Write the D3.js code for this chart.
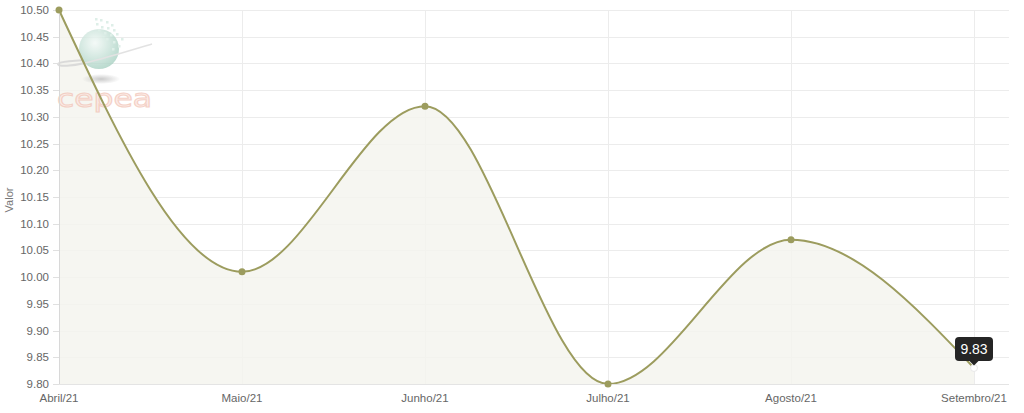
<!DOCTYPE html>
<html><head><meta charset="utf-8">
<script src="https://cdn.jsdelivr.net/npm/d3@7"></script>
<style>
html,body{margin:0;padding:0;background:#fff;}
svg{display:block;font-family:"Liberation Sans",Arial,sans-serif;}
</style></head>
<body><svg id="c" width="1024" height="413"></svg>
<script>
const categories = ["Abril/21","Maio/21","Junho/21","Julho/21","Agosto/21","Setembro/21"];
const values = [10.50, 10.01, 10.32, 9.80, 10.07, 9.83];
const yTicks = [9.80,9.85,9.90,9.95,10.00,10.05,10.10,10.15,10.20,10.25,10.30,10.35,10.40,10.45,10.50];
const yLabel = "Valor";
const tooltipIndex = 5;

(function(){
const svg = d3.select("#c");
const pL = 59, pR = 1009, pT = 10, pB = 384;
const x = d3.scalePoint().domain(categories).range([pL, 974]);
const y = d3.scaleLinear().domain([9.80, 10.50]).range([pB, pT]);
const lineColor = "#9c9c5e";
const data = categories.map((c,i)=>({c, v:values[i]}));

svg.append("g").selectAll("line").data(yTicks).join("line")
  .attr("x1", pL).attr("x2", pR)
  .attr("y1", d=>Math.round(y(d))+0.5).attr("y2", d=>Math.round(y(d))+0.5)
  .attr("stroke", "#ececec").attr("stroke-width", 1);
svg.append("g").selectAll("line").data(categories).join("line")
  .attr("x1", d=>Math.round(x(d))+0.5).attr("x2", d=>Math.round(x(d))+0.5)
  .attr("y1", pT).attr("y2", pB)
  .attr("stroke", "#ececec").attr("stroke-width", 1);

const curve = d3.curveMonotoneX;
svg.append("path").datum(data)
  .attr("d", d3.area().x(d=>x(d.c)).y0(pB).y1(d=>y(d.v)).curve(curve))
  .attr("fill", "#f5f5ef").attr("fill-opacity", 0.85);

// logo watermark
const logo = svg.append("g").attr("opacity", 0.8);
const defs = svg.append("defs");
const grad = defs.append("radialGradient").attr("id","gl").attr("cx","40%").attr("cy","35%").attr("r","70%");
grad.append("stop").attr("offset","0%").attr("stop-color","#f2f9f6");
grad.append("stop").attr("offset","100%").attr("stop-color","#a6d0c1");
const sg = defs.append("radialGradient").attr("id","sh");
sg.append("stop").attr("offset","0%").attr("stop-color","#bdbdbd");
sg.append("stop").attr("offset","100%").attr("stop-color","#bdbdbd").attr("stop-opacity",0);
logo.append("ellipse").attr("cx",101).attr("cy",79).attr("rx",19).attr("ry",5).attr("fill","url(#sh)");
logo.append("path").attr("d","M97,60 C75,60 58,62 58,64 C58,67 72,66 85,63")
  .attr("fill","none").attr("stroke","#d4d4d4").attr("stroke-width",2);
logo.append("circle").attr("cx",99).attr("cy",49).attr("r",20).attr("fill","url(#gl)");
const dots = [[95,18],[100,19],[106,21],[111,24],[96,23],[101,26],[107,27],[113,29],[104,32],[110,34],[116,33],[98,29],[121,38],[113,41],[106,38],[118,45],[112,48],[102,36]];
logo.selectAll("rect.px").data(dots).join("rect").attr("class","px")
  .attr("x",d=>d[0]).attr("y",d=>d[1]).attr("width",2.5).attr("height",2.5).attr("fill","#d6ece3");
logo.append("path").attr("d","M85,63 C110,57 135,49 152,44")
  .attr("fill","none").attr("stroke","#dcdcdc").attr("stroke-width",1.5);
logo.append("text").attr("x",57).attr("y",107)
  .attr("font-size",24).attr("textLength",95).attr("lengthAdjust","spacingAndGlyphs")
  .attr("fill","#fce9e3").attr("stroke","#f2c6b9").attr("stroke-width",1)
  .attr("font-family","'DejaVu Sans',sans-serif").text("cepea");

svg.append("path").datum(data)
  .attr("d", d3.line().x(d=>x(d.c)).y(d=>y(d.v)).curve(curve))
  .attr("fill", "none").attr("stroke", lineColor).attr("stroke-width", 2);

svg.append("line").attr("x1",pL+0.5).attr("x2",pL+0.5).attr("y1",pT).attr("y2",pB)
  .attr("stroke","#d8d8d8");
svg.append("line").attr("x1",pL).attr("x2",pR).attr("y1",pB+0.5).attr("y2",pB+0.5)
  .attr("stroke","#e4e4e4");

const ya = svg.append("g");
ya.selectAll("line").data(yTicks).join("line")
  .attr("x1", pL-6).attr("x2", pL).attr("y1", d=>Math.round(y(d))+0.5).attr("y2", d=>Math.round(y(d))+0.5)
  .attr("stroke","#e0e0e0");
ya.selectAll("text").data(yTicks).join("text")
  .attr("x", 49).attr("y", d=>y(d)+4).attr("text-anchor","end")
  .attr("font-size", 11.5).attr("fill","#666").text(d=>d.toFixed(2));
svg.append("text").attr("transform","translate(13,200) rotate(-90)")
  .attr("text-anchor","middle").attr("font-size",11).attr("fill","#777").text(yLabel);

svg.append("g").selectAll("text").data(categories).join("text")
  .attr("x", d=>x(d)).attr("y", 402).attr("text-anchor","middle")
  .attr("font-size", 11.5).attr("fill","#666").text(d=>d);

svg.append("g").selectAll("circle").data(data).join("circle")
  .attr("cx", d=>x(d.c)).attr("cy", d=>y(d.v)).attr("r", 3.5)
  .attr("fill", (d,i)=>i===tooltipIndex?"#fff":lineColor)
  .attr("stroke", (d,i)=>i===tooltipIndex?"#e8e8e8":"none");

const td = data[tooltipIndex];
const tx = x(td.c), ty = y(td.v);
const tg = svg.append("g").attr("transform", `translate(${tx},${ty})`);
tg.append("rect").attr("x",-19).attr("y",-31).attr("width",38).attr("height",24).attr("rx",4)
  .attr("fill","#252525");
tg.append("path").attr("d","M-5,-7.5 L0,-2.5 L5,-7.5 Z").attr("fill","#252525");
tg.append("text").attr("x",0).attr("y",-13.5).attr("text-anchor","middle")
  .attr("font-size",14).attr("fill","#fff").text(td.v.toFixed(2));
})();
</script></body></html>
